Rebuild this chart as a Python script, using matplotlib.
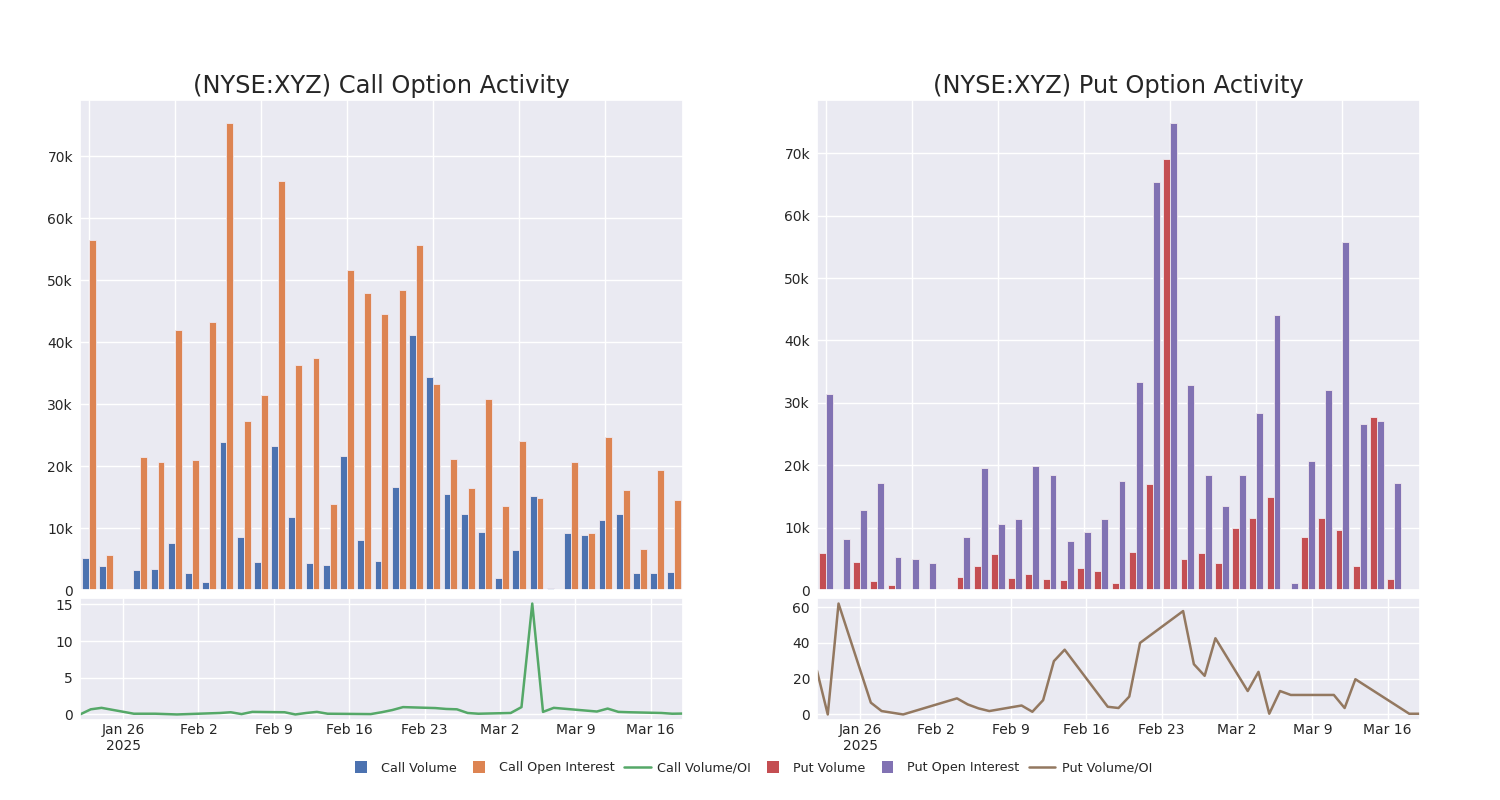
import matplotlib
matplotlib.use("Agg")
import matplotlib.pyplot as plt
import matplotlib.dates as mdates
from matplotlib.ticker import FuncFormatter, MultipleLocator, FixedLocator
from matplotlib.patches import Patch, Rectangle
from matplotlib.lines import Line2D
from matplotlib.legend_handler import HandlerPatch
import numpy as np
import pandas as pd
import seaborn as sns

sns.set_theme(style="darkgrid")
plt.rcParams['font.family'] = ['DejaVu Sans']

# ---------------- data (values in thousands for bars) ----------------
call_volume = [5.2, 3.9, 0.1, 3.3, 3.4, 7.6, 2.8, 1.3, 23.9, 8.5, 4.5, 23.3, 11.7, 4.3, 4.0,
               21.6, 8.1, 4.6, 16.7, 41.2, 34.4, 15.5, 12.2, 9.3, 2.0, 6.5, 15.1, 0.3, 9.2,
               8.8, 11.3, 12.3, 2.7, 2.7, 2.9]
call_oi = [56.4, 5.6, 0.1, 21.4, 20.7, 42.0, 20.9, 43.3, 75.3, 27.3, 31.5, 66.0, 36.3, 37.5, 13.8,
           51.6, 48.0, 44.5, 48.4, 55.7, 33.2, 21.1, 16.5, 30.8, 13.6, 24.0, 14.9, 0.0, 20.6,
           9.2, 24.7, 16.2, 6.6, 19.4, 14.6]
put_volume = [6.0, 0.2, 4.5, 1.4, 0.8, 0.2, 0.1, 0.1, 2.1, 3.9, 5.7, 1.9, 2.5, 1.8, 1.6,
              3.5, 3.0, 1.1, 6.1, 17.0, 69.1, 4.9, 5.9, 4.3, 10.0, 11.6, 14.9, 0.1, 8.5,
              11.5, 9.6, 3.9, 27.8, 1.8, 0.05]
put_oi = [31.4, 8.2, 12.9, 17.1, 5.3, 4.9, 4.4, 0.05, 8.5, 19.6, 10.6, 11.4, 19.9, 18.5, 7.9,
          9.3, 11.4, 17.5, 33.3, 65.4, 74.8, 32.8, 18.4, 13.4, 18.5, 28.4, 44.1, 1.2, 20.7,
          32.0, 55.7, 26.6, 27.1, 17.2, 0.05]

call_ratio_dates = ["2025-01-22", "2025-01-23", "2025-01-24", "2025-01-27", "2025-01-28",
                    "2025-01-29", "2025-01-30", "2025-01-31", "2025-02-03", "2025-02-04",
                    "2025-02-05", "2025-02-06", "2025-02-07", "2025-02-10", "2025-02-11",
                    "2025-02-12", "2025-02-13", "2025-02-14", "2025-02-18", "2025-02-19",
                    "2025-02-20", "2025-02-21", "2025-02-24", "2025-02-25", "2025-02-26",
                    "2025-02-27", "2025-02-28", "2025-03-03", "2025-03-04", "2025-03-05",
                    "2025-03-06", "2025-03-07", "2025-03-11", "2025-03-12", "2025-03-13",
                    "2025-03-14", "2025-03-17", "2025-03-18", "2025-03-19"]
call_ratio = [0.0, 0.7, 0.9, 0.1, 0.1, 0.1, 0.05, 0.0, 0.15, 0.2,
              0.3, 0.05, 0.35, 0.3, 0.0, 0.2, 0.35, 0.1, 0.05, 0.3,
              0.6, 1.0, 0.87, 0.75, 0.7, 0.2, 0.1, 0.2, 1.0, 15.1,
              0.35, 0.9, 0.4, 0.8, 0.35, 0.3, 0.2, 0.1, 0.12]

put_ratio_dates = ["2025-01-22", "2025-01-23", "2025-01-24", "2025-01-27", "2025-01-28",
                   "2025-01-30", "2025-02-04", "2025-02-05", "2025-02-06", "2025-02-07",
                   "2025-02-10", "2025-02-11", "2025-02-12", "2025-02-13", "2025-02-14",
                   "2025-02-18", "2025-02-19", "2025-02-20", "2025-02-21", "2025-02-25",
                   "2025-02-26", "2025-02-27", "2025-02-28", "2025-03-03", "2025-03-04",
                   "2025-03-05", "2025-03-06", "2025-03-07", "2025-03-11", "2025-03-12",
                   "2025-03-13", "2025-03-18", "2025-03-19"]
put_ratio = [24.4, 0.0, 62.0, 6.6, 1.9, 0.0, 9.0, 5.6, 3.4, 1.9,
             5.0, 1.5, 8.0, 29.8, 36.2, 4.3, 3.6, 10.0, 40.0, 57.8,
             28.1, 21.6, 42.6, 13.1, 23.8, 0.4, 13.1, 10.9, 10.9, 3.6,
             19.7, 0.4, 0.4]

x_start, x_end = "2025-01-22", "2025-03-19"
week_ticks = ["2025-01-26", "2025-02-02", "2025-02-09", "2025-02-16", "2025-02-23",
              "2025-03-02", "2025-03-09", "2025-03-16"]
week_labels = ["Jan 26\n2025", "Feb 2", "Feb 9", "Feb 16", "Feb 23", "Mar 2", "Mar 9", "Mar 16"]

legend_labels = ["Call Volume", "Call Open Interest", "Call Volume/OI",
                 "Put Volume", "Put Open Interest", "Put Volume/OI"]

c_blue, c_orange, c_green = "#4c72b0", "#dd8452", "#55a868"
c_red, c_purple, c_brown = "#c44e52", "#8172b3", "#937860"

fig = plt.figure(figsize=(15, 8), dpi=100)

def panel(left, vol, oi, ratio_dates, ratio, cv, co, cl, title, ylocs):
    W = 603 / 1500
    ax_top = fig.add_axes([left, 0.2625, W, 0.6125])
    ax_bot = fig.add_axes([left, 0.10, W, 0.1525])
    n = len(vol)
    x = np.arange(n)
    ax_top.bar(x - 0.2, np.array(vol) * 1000, width=0.4, color=cv, edgecolor="#f0e8ee", linewidth=0.6)
    ax_top.bar(x + 0.2, np.array(oi) * 1000, width=0.4, color=co, edgecolor="#f0e8ee", linewidth=0.6)
    ax_top.set_xlim(-0.5, n - 0.5)
    ax_top.xaxis.set_major_locator(MultipleLocator(5))
    ax_top.tick_params(axis='x', labelbottom=False, length=0)
    ax_top.yaxis.set_major_formatter(FuncFormatter(lambda v, p: "0" if v == 0 else f"{int(v/1000)}k"))
    ax_top.tick_params(axis='y', labelsize=10, pad=5, length=0)
    ax_top.set_title(title, fontsize=17.4, pad=5, color="#262626")

    d = pd.to_datetime(ratio_dates)
    ax_bot.plot(d, ratio, color=cl, linewidth=1.8)
    ax_bot.set_xlim(pd.Timestamp(x_start), pd.Timestamp(x_end))
    ax_bot.xaxis.set_major_locator(FixedLocator(mdates.date2num(pd.to_datetime(week_ticks))))
    ax_bot.set_xticklabels(week_labels)
    ax_bot.yaxis.set_major_locator(FixedLocator(ylocs))
    ax_bot.tick_params(axis='x', labelsize=10, pad=2, length=0)
    ax_bot.tick_params(axis='y', labelsize=10, pad=5, length=0)
    return ax_top, ax_bot

panel(80 / 1500, call_volume, call_oi, call_ratio_dates, call_ratio,
      c_blue, c_orange, c_green, "(NYSE:XYZ) Call Option Activity", [0, 5, 10, 15])
panel(817 / 1500, put_volume, put_oi, put_ratio_dates, put_ratio,
      c_red, c_purple, c_brown, "(NYSE:XYZ) Put Option Activity", [0, 20, 40, 60])


class SquareHandler(HandlerPatch):
    def create_artists(self, legend, orig_handle, xdescent, ydescent, width, height,
                       fontsize, trans):
        s = height * 1.3
        cx = -xdescent + width / 2
        cy = -ydescent + height / 2
        r = Rectangle((cx - s / 2, cy - s / 2), s, s, facecolor=orig_handle.get_facecolor(),
                      edgecolor="none", transform=trans)
        return [r]


colors = [c_blue, c_orange, c_green, c_red, c_purple, c_brown]
handles = []
for lab, col in zip(legend_labels, colors):
    if lab.endswith("/OI"):
        handles.append(Line2D([0], [0], color=col, lw=1.8, label=lab))
    else:
        handles.append(Patch(facecolor=col, label=lab))

fig.legend(handles=handles, loc="center", bbox_to_anchor=(0.5, 0.04), ncol=6,
           frameon=False, prop={'family': 'DejaVu Sans', 'size': 9.2},
           handlelength=2.1, handletextpad=0.5, columnspacing=0.7,
           handler_map={Patch: SquareHandler()})

fig.savefig("out.png", dpi=100)
